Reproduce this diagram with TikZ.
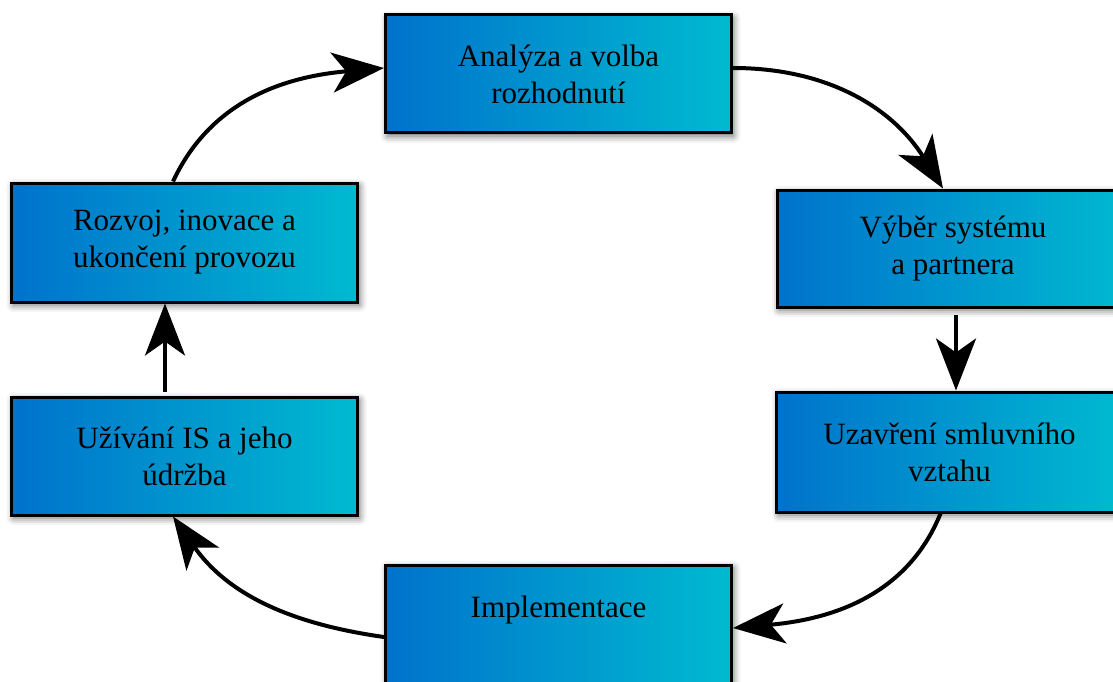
\documentclass[tikz,border=0pt]{standalone}
\usepackage{fontspec}
\setmainfont{Liberation Serif}
\usetikzlibrary{arrows.meta,shadows.blur}
\definecolor{boxleft}{RGB}{0,114,204}
\definecolor{boxright}{RGB}{0,186,208}
\tikzset{
    krok/.style={draw=black, line width=3pt, left color=boxleft, right color=boxright,
        minimum width=346pt, minimum height=118pt, align=center, inner sep=0pt,
        font=\fontsize{31}{37}\selectfont,
        blur shadow={shadow xshift=2pt, shadow yshift=-3pt, shadow blur radius=7pt, shadow opacity=60}},
    sipka/.style={line width=4pt, -{Stealth[length=52pt, width=40pt, inset=14pt]}}
}

\begin{document}
\begin{tikzpicture}[x=1pt, y=-1pt]
            \useasboundingbox (0,0) rectangle (1113,682);

            % Kroky cyklu
            \node[krok] (analyza) at (558.5,74) {Analýza a volba\\rozhodnutí};
            \node[krok, minimum width=352pt, minimum height=117pt] (vyber) at (953,248.5) {Výběr systému\\a partnera};
            \node[krok, minimum height=120pt] (uzavreni) at (949.5,452) {Uzavření smluvního\\vztahu};
            \node[krok, minimum height=120pt] (implementace) at (558.5,625) {Implementace\\~};
            \node[krok] (uzivani) at (184.5,456) {Užívání IS a jeho\\údržba};
            \node[krok, minimum height=119pt] (rozvoj) at (184.5,242.5) {Rozvoj, inovace a\\ukončení provozu};

            % Šipky
            \draw[sipka] ([xshift=-11.5pt]rozvoj.north) to[out=65,in=185] ([yshift=6pt]analyza.west);
            \draw[sipka] ([yshift=6pt]analyza.east) to[out=0,in=122] ([xshift=-10pt]vyber.north);
            \draw[sipka] ([xshift=3pt,yshift=-6pt]vyber.south) -- ([xshift=6.5pt]uzavreni.north);
            \draw[sipka] ([xshift=-9pt]uzavreni.south) to[out=-112,in=5] ([yshift=-3pt]implementace.east);
            \draw[sipka] ([yshift=-12pt]implementace.west) to[out=172,in=-55] ([xshift=-11.5pt]uzivani.south);
            \draw[sipka] ([xshift=-19.5pt,yshift=4pt]uzivani.north) -- ([xshift=-19.5pt]rozvoj.south);
        \end{tikzpicture}
\end{document}
